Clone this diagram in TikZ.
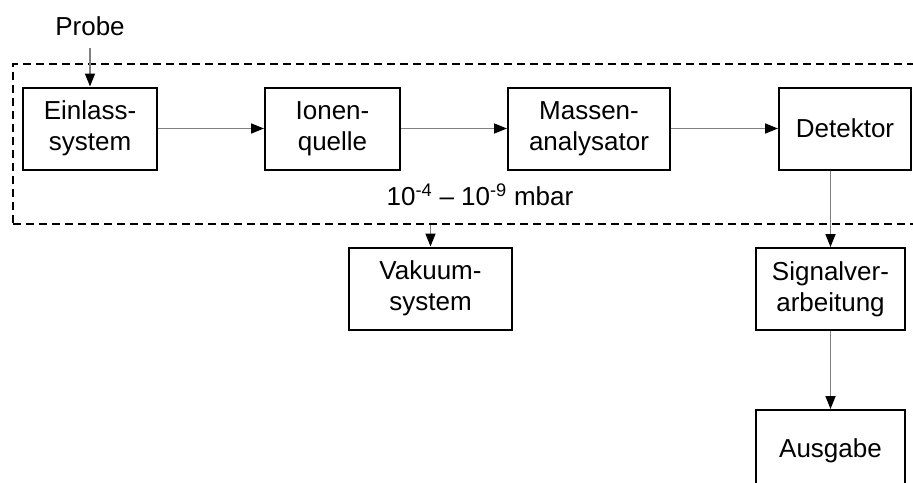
\documentclass[tikz,border=0pt]{standalone}
\usepackage{fontspec}
\setmainfont{Liberation Sans}
\usepackage{tikz}
\usetikzlibrary{positioning}
\usetikzlibrary{arrows.meta}
\tikzset{%
  flow/.style = {-{Triangle[length=13pt,width=10pt,color=black]},
        draw=black!50,line width=1.7pt},
  stage/.style = {rectangle,draw,line width=2pt,align=center,
        minimum height=82pt,inner sep=0pt},
  chamber/.style = {rectangle,draw,line width=1.9pt,
        dash pattern=on 8pt off 5pt,anchor=north west}
}

\begin{document}
\begin{tikzpicture}[x=1pt,y=-1pt,font=\fontsize{26}{31}\selectfont]
                            \useasboundingbox (0,0) rectangle (913,482);
                            \node[chamber, minimum width=930pt, minimum height=160pt] (kam) at (12,63) {};
                            \node[inner ysep=12pt] (probe) at (90,26) {Probe};
                            \node[stage, minimum width=134pt] (ein) at (90,128.5) {Einlass-\\system};
                            \node[stage, minimum width=135pt] (ion) [right=106pt of ein] {Ionen-\\quelle};
                            \node[stage, minimum width=162pt] (mas) [right=106pt of ion] {Massen-\\analysator};
                            \node[stage, minimum width=132pt] (det) [right=107pt of mas] {Detektor};
                            \node (druck) at (480,195) {10\textsuperscript{-4} -- 10\textsuperscript{-9} mbar};
                            \node[stage, minimum width=163pt] (vak) at (430.5,288.5) {Vakuum-\\system};
                            \node[stage, minimum width=149pt] (sig) at (830.5,289) {Signalver-\\arbeitung};
                            \node[stage, minimum width=149pt] (aus) [below=78pt of sig] {Ausgabe};
                            \draw[flow] (probe) -- (ein);
                            \draw[flow] (ein) -- (ion);
                            \draw[flow] (ion) -- (mas);
                            \draw[flow] (mas) -- (det);
                            \draw[flow] (det.south -| sig.north) -- (sig.north);
                            \draw[flow] (kam.south -| vak.north) -- (vak.north);
                            \draw[flow] (sig) -- (aus);
                        \end{tikzpicture}
\end{document}
